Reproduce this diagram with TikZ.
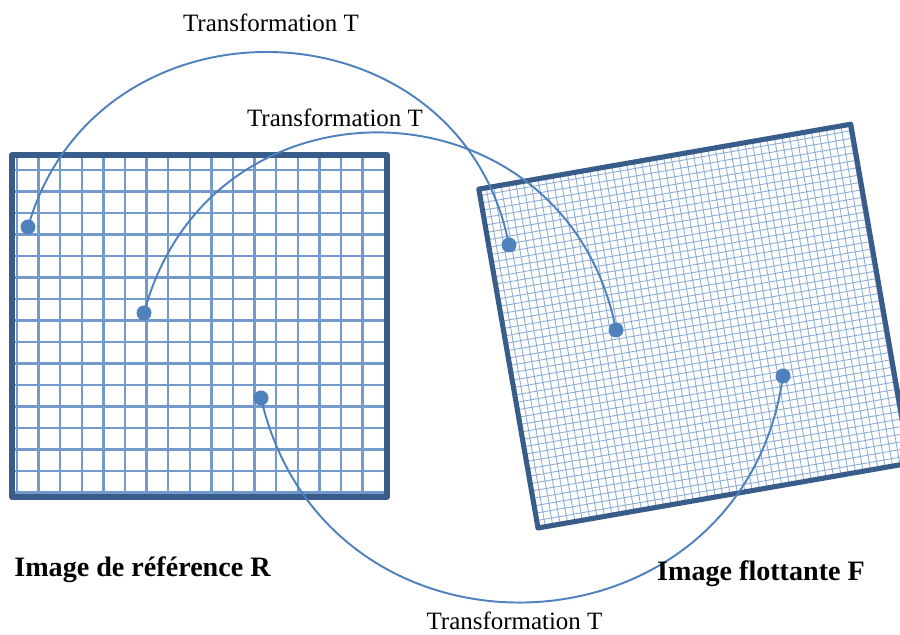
\documentclass[tikz,border=0pt]{standalone}
\usepackage{fontspec}
\setmainfont{Liberation Serif}
\usepackage{tikz}
\usetikzlibrary{calc}
\definecolor{lineblue}{RGB}{79,129,189}
\definecolor{frameblue}{RGB}{56,93,138}
\tikzset{>=latex}
\tikzset{
  coarsegrid/.style={lineblue!80, line width=1.3pt},
  finegrid/.style={lineblue!65, line width=0.5pt},
  framebox/.style={frameblue, line width=2.9pt, line join=round},
  dotmark/.style={circle, fill=lineblue, inner sep=0pt, minimum size=0.3cm},
  transarc/.style={lineblue, line width=1.1pt},
  translabel/.style={font=\fontsize{14.2}{17}\selectfont, anchor=base},
  imglabel/.style={font=\fontsize{16}{19}\selectfont\bfseries, anchor=base}
}

\begin{document}
\begin{tikzpicture}
        \useasboundingbox (0,0) rectangle (18,12.7);
        % reference image R
        \foreach \i in {0,...,16}
          \draw[coarsegrid] ({0.34+0.432*\i},2.76) -- ({0.34+0.432*\i},9.6);
        \foreach \j in {0,...,15}
          \draw[coarsegrid] (0.24,{9.3-0.43*\j}) -- (7.74,{9.3-0.43*\j});
        \draw[framebox] (0.24,2.76) rectangle (7.74,9.6);
        % floating image F
        \begin{scope}
          \clip (0,0) rectangle (18,12.7);
          \begin{scope}[shift={(10.76,2.14)}, rotate=9.9]
            \draw[finegrid, step=0.15] (0,0) grid (7.55,6.88);
            \draw[framebox] (0,0) rectangle (7.55,6.88);
          \end{scope}
        \end{scope}
        % points
        \node[dotmark] (r1) at (0.56,8.16) {};
        \node[dotmark] (r2) at (2.88,6.44) {};
        \node[dotmark] (r3) at (5.22,4.74) {};
        \node[dotmark] (f1) at (10.18,7.80) {};
        \node[dotmark] (f2) at (12.32,6.10) {};
        \node[dotmark] (f3) at (15.66,5.18) {};
        \draw[transarc] (r1.center) to[out=74, in=101, looseness=1.34] (f1.center);
        \draw[transarc] (r2.center) to[out=75, in=101, looseness=1.40] (f2.center);
        \draw[transarc] (r3.center) to[out=-77, in=-98, looseness=1.43] (f3.center);
        \node[translabel] (t1) at (5.42,12.06) {Transformation T};
        \node[translabel] (t2) at (6.70,10.16) {Transformation T};
        \node[translabel] (t3) at (10.29,0.10) {Transformation T};
        \node[imglabel] (nameR) at (2.85,1.16) {Image de référence R};
        \node[imglabel] (nameF) at (15.22,1.08) {Image flottante F};
      \end{tikzpicture}
\end{document}
